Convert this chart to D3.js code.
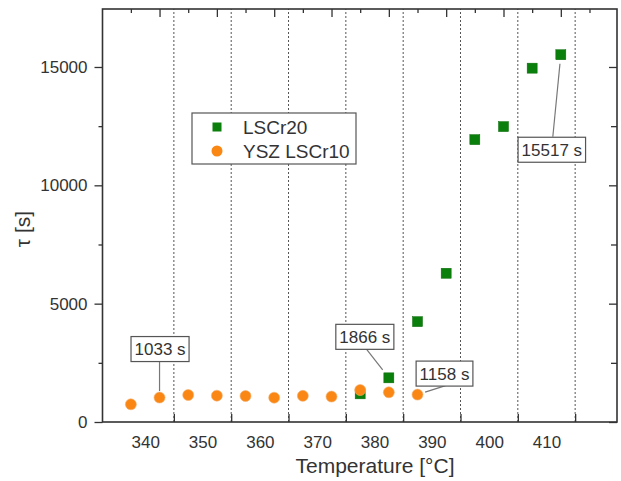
<!DOCTYPE html>
<html>
<head>
<meta charset="utf-8">
<script src="https://cdn.jsdelivr.net/npm/d3@7"></script>
<style>
  html, body { margin: 0; padding: 0; background: #fff; }
  svg { display: block; }
  text { font-family: "Liberation Sans", Arial, Helvetica, sans-serif; fill: #333; }
</style>
</head>
<body>
<svg id="chart" width="621" height="481"></svg>
<script>
// ---------------- data ----------------
const lscr20Temp = [377.5, 382.5, 387.5, 392.5, 397.5, 402.5, 407.5, 412.5];
const lscr20Tau  = [1190, 1866, 4240, 6285, 11930, 12480, 14950, 15517];

const yszTemp = [337.5, 342.5, 347.5, 352.5, 357.5, 362.5, 367.5, 372.5, 377.5, 382.5, 387.5];
const yszTau  = [748, 1033, 1141, 1113, 1099, 1027, 1105, 1075, 1352, 1254, 1158];

const xTickLabels = [340, 350, 360, 370, 380, 390, 400, 410];
const xGridValues = [345, 355, 365, 375, 385, 395, 405, 415];
const topMajorTicks = [342.5, 352.5, 362.5, 372.5, 382.5, 392.5, 402.5, 412.5];
const topMinorTicks = [337.5, 347.5, 357.5, 367.5, 377.5, 387.5, 397.5, 407.5, 417.5];
const yMajorTicks = [0, 5000, 10000, 15000];
const yMinorTicks = [2500, 7500, 12500];

const seriesNames = ["LSCr20", "YSZ LSCr10"];
const annotationSeries = ["ysz", "lscr20", "ysz", "lscr20"];
const annotationIndex  = [1, 1, 10, 7];
const annotationText   = ["1033 s", "1866 s", "1158 s", "15517 s"];

// ---------------- layout ----------------
const L = 102.5, R = 617, T = 9, B = 422;
const annoLayout = [
  { box: [0.5, -48.5], start: [0, -35.5], gap: 6.5 },
  { box: [-24, -41],   start: [-23, -29.5], gap: 10 },
  { box: [27, -21],    start: [28, -9],   gap: 8 },
  { box: [-9, 95],     start: [-8, 82],   gap: 9 }
];
const green = "#0b7f0b", orange = "#fa8714";

const svg = d3.select("#chart");
const x = d3.scaleLinear().domain([332.55, 422.3]).range([L, R]);
const y = d3.scaleLinear().domain([0, 17450]).range([B, T]);

// dotted vertical grid
svg.append("g").selectAll("line").data(xGridValues).join("line")
  .attr("x1", d => x(d)).attr("x2", d => x(d))
  .attr("y1", B).attr("y2", T)
  .attr("stroke", "#555").attr("stroke-width", 1)
  .attr("stroke-dasharray", "2,2");

function styleAxis(g) {
  g.select(".domain").remove();
  g.selectAll(".tick line").attr("stroke", "#333").attr("stroke-width", 1.3);
  g.selectAll(".tick text").style("font-size", "17px").attr("fill", "#333");
}

// bottom axis: ticks (inward) at grid positions, no labels
svg.append("g").attr("transform", `translate(0,${B})`)
  .call(d3.axisBottom(x).tickValues(xGridValues).tickSize(-8).tickFormat(""))
  .call(styleAxis);
// bottom axis labels
svg.append("g").attr("transform", `translate(0,${B})`)
  .call(d3.axisBottom(x).tickValues(xTickLabels).tickSize(0).tickPadding(14).tickFormat(d3.format("d")))
  .call(styleAxis);

// top axis
svg.append("g").attr("transform", `translate(0,${T})`)
  .call(d3.axisTop(x).tickValues(topMajorTicks).tickSize(-8).tickFormat(""))
  .call(styleAxis);
svg.append("g").attr("transform", `translate(0,${T})`)
  .call(d3.axisTop(x).tickValues(topMinorTicks.filter(v => x(v) < R - 2)).tickSize(-4).tickFormat(""))
  .call(styleAxis);

// left axis
svg.append("g").attr("transform", `translate(${L},0)`)
  .call(d3.axisLeft(y).tickValues(yMajorTicks).tickSize(8).tickPadding(7).tickFormat(d3.format("d")))
  .call(styleAxis);
svg.append("g").attr("transform", `translate(${L},0)`)
  .call(d3.axisLeft(y).tickValues(yMinorTicks).tickSize(4).tickFormat(""))
  .call(styleAxis);

// right axis (inward)
svg.append("g").attr("transform", `translate(${R},0)`)
  .call(d3.axisRight(y).tickValues(yMajorTicks).tickSize(-8).tickFormat(""))
  .call(styleAxis);
svg.append("g").attr("transform", `translate(${R},0)`)
  .call(d3.axisRight(y).tickValues(yMinorTicks).tickSize(-6).tickFormat(""))
  .call(styleAxis);

// frame
svg.append("rect").attr("x", L).attr("y", T).attr("width", R - L).attr("height", B - T)
  .attr("fill", "none").attr("stroke", "#333").attr("stroke-width", 1.6);

// axis titles
svg.append("text").attr("x", 375)
  .attr("y", 473).attr("text-anchor", "middle").style("font-size", "21px")
  .text("Temperature [°C]");
svg.append("text").attr("transform", "translate(30,229) rotate(-90)")
  .attr("text-anchor", "middle").style("font-size", "21px")
  .text("τ [s]");

// data
const lscr20 = lscr20Temp.map((t, i) => ({ t, v: lscr20Tau[i] }));
const ysz = yszTemp.map((t, i) => ({ t, v: yszTau[i] }));
const sq = 10;
svg.append("g").selectAll("rect").data(lscr20).join("rect")
  .attr("x", d => x(d.t) - sq / 2).attr("y", d => y(d.v) - sq / 2)
  .attr("width", sq).attr("height", sq)
  .attr("fill", green).attr("stroke", "#0a6a0a").attr("stroke-width", 0.5);
svg.append("g").selectAll("circle").data(ysz).join("circle")
  .attr("cx", d => x(d.t)).attr("cy", d => y(d.v)).attr("r", 5.5)
  .attr("fill", orange).attr("stroke", "#f4b070").attr("stroke-width", 0.6);

// annotations
const seriesMap = { ysz, lscr20 };
annotationText.forEach((txt, i) => {
  const p = seriesMap[annotationSeries[i]][annotationIndex[i]];
  const px = x(p.t), py = y(p.v);
  const lay = annoLayout[i];
  const sx = px + lay.start[0], sy = py + lay.start[1];
  const dx = sx - px, dy = sy - py, len = Math.hypot(dx, dy);
  const ex = px + dx / len * lay.gap, ey = py + dy / len * lay.gap;
  svg.append("line").attr("x1", sx).attr("y1", sy).attr("x2", ex).attr("y2", ey)
    .attr("stroke", "#777").attr("stroke-width", 1.2);
  const cx = px + lay.box[0], cy = py + lay.box[1];
  const g = svg.append("g");
  const rect = g.append("rect");
  const t = g.append("text").attr("x", cx).attr("y", cy).attr("dy", "0.36em")
    .attr("text-anchor", "middle").style("font-size", "17px").text(txt);
  const bb = t.node().getBBox();
  const w = bb.width + 7, h = 25;
  rect.attr("x", cx - w / 2).attr("y", cy - h / 2).attr("width", w).attr("height", h)
    .attr("fill", "#fff").attr("stroke", "#555").attr("stroke-width", 1.2);
});

// legend
const lg = svg.append("g");
lg.append("rect").attr("x", 192).attr("y", 113).attr("width", 164).attr("height", 51)
  .attr("fill", "#fff").attr("stroke", "#555").attr("stroke-width", 1.2);
lg.append("rect").attr("x", 217 - 4.5).attr("y", 127 - 4.5).attr("width", 9).attr("height", 9)
  .attr("fill", green);
lg.append("circle").attr("cx", 217).attr("cy", 151).attr("r", 5.5).attr("fill", orange);
lg.append("text").attr("x", 243).attr("y", 127).attr("dy", "0.36em").style("font-size", "19px").text(seriesNames[0]);
lg.append("text").attr("x", 243).attr("y", 151).attr("dy", "0.36em").style("font-size", "19px").text(seriesNames[1]);
</script>
</body>
</html>
